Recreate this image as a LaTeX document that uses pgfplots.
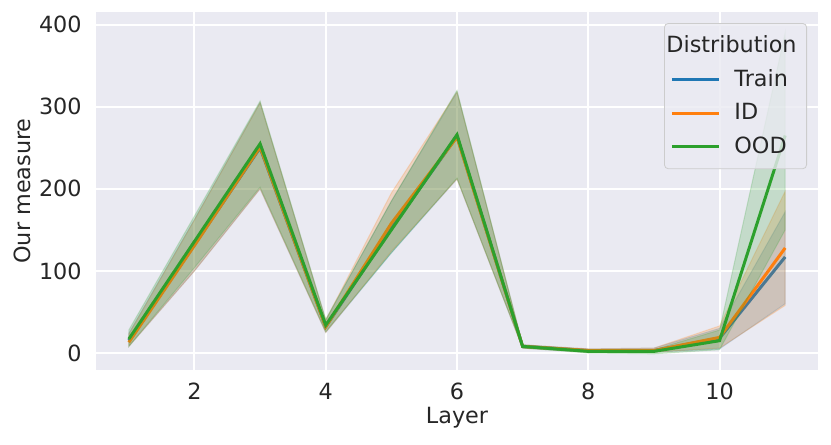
\documentclass[border=0pt]{standalone}
\usepackage{fontspec}
\setmainfont{DejaVu Sans}
\usepackage{pgfplots}
\pgfplotsset{compat=1.18}
\usetikzlibrary{calc}

\definecolor{sbbg}{HTML}{EAEAF2}
\definecolor{sbtext}{HTML}{262626}
\definecolor{cTrain}{HTML}{1F77B4}
\definecolor{cID}{HTML}{FF7F0E}
\definecolor{cOOD}{HTML}{2CA02C}

\begin{document}
\begin{tikzpicture}[font=\fontsize{11.2}{13}\selectfont, text=sbtext]
\begin{axis}[name=ax,
  scale only axis, width=361bp, height=179bp,
  xmin=0.5, xmax=11.5, ymin=-20.7, ymax=415.5,
  xtick={2,4,6,8,10}, ytick={0,100,200,300,400},
  /pgf/number format/assume math mode=true,
  axis background/.style={fill=sbbg},
  axis line style={draw=none},
  major tick length=0pt,
  grid=major, major grid style={white, line width=1bp},
  x tick label style={inner sep=0pt, anchor=north, yshift=-6.5bp},
  y tick label style={inner sep=0pt, anchor=east, xshift=-7bp},
  xlabel={Layer}, ylabel={Our measure},
  every axis x label/.style={at={(axis description cs:0.5,-0.134)}, anchor=center},
  every axis y label/.style={at={(axis description cs:-0.1025,0.5)}, rotate=90, anchor=center},
  legend cell align=left,
  legend image code/.code={\draw[#1] (0bp,0bp) -- (23.5bp,0bp);},
  legend style={at={(1,1)}, anchor=north east, xshift=-5.5bp, yshift=-5.5bp,
    fill=sbbg, fill opacity=0.8, text opacity=1, draw=black!20, rounded corners=2bp,
    inner xsep=3bp, inner ysep=4.2bp, row sep=3bp,
    /tikz/every odd column/.append style={column sep=5bp}},
  every axis plot/.append style={line width=1.5bp},
]
\addlegendimage{empty legend}
% Train
\addplot[forget plot, fill=cTrain, fill opacity=0.2, draw=cTrain, draw opacity=0.2, line width=0.5bp] coordinates {
  (1,24) (2,163) (3,305) (4,40) (5,185) (6,318) (7,10) (8,5) (9,6) (10,30) (11,172)
  (11,60) (10,5) (9,1) (8,1) (7,6) (6,212) (5,122) (4,25) (3,200) (2,100) (1,8)
} -- cycle;
\addplot[cTrain] coordinates {
  (1,15) (2,132) (3,250) (4,32) (5,152) (6,264) (7,8) (8,3) (9,3) (10,18) (11,117)
};
% ID
\addplot[forget plot, fill=cID, fill opacity=0.2, draw=cID, draw opacity=0.2, line width=0.5bp] coordinates {
  (1,23) (2,162) (3,305) (4,40) (5,195) (6,318) (7,10) (8,5) (9,6) (10,33) (11,197)
  (11,58) (10,6) (9,1) (8,1) (7,6) (6,212) (5,124) (4,25) (3,200) (2,100) (1,8)
} -- cycle;
\addplot[cID] coordinates {
  (1,13) (2,131) (3,251) (4,32) (5,158) (6,263) (7,8) (8,3) (9,3) (10,19) (11,128)
};
% OOD
\addplot[forget plot, fill=cOOD, fill opacity=0.2, draw=cOOD, draw opacity=0.2, line width=0.5bp] coordinates {
  (1,28) (2,167) (3,307) (4,41) (5,185) (6,320) (7,10) (8,4) (9,4) (10,28) (11,390)
  (11,150) (10,4) (9,-1) (8,0) (7,6) (6,213) (5,122) (4,26) (3,202) (2,104) (1,8)
} -- cycle;
\addplot[cOOD] coordinates {
  (1,17) (2,136) (3,255) (4,34) (5,150) (6,266) (7,8) (8,2) (9,2) (10,15) (11,265)
};
\legend{\hspace*{-34bp}Distribution, Train, ID, OOD}
\end{axis}
\path ($(ax.south west)+(-48bp,-37.5bp)$) rectangle ($(ax.north east)+(6.5bp,6bp)$);
\end{tikzpicture}
\end{document}
